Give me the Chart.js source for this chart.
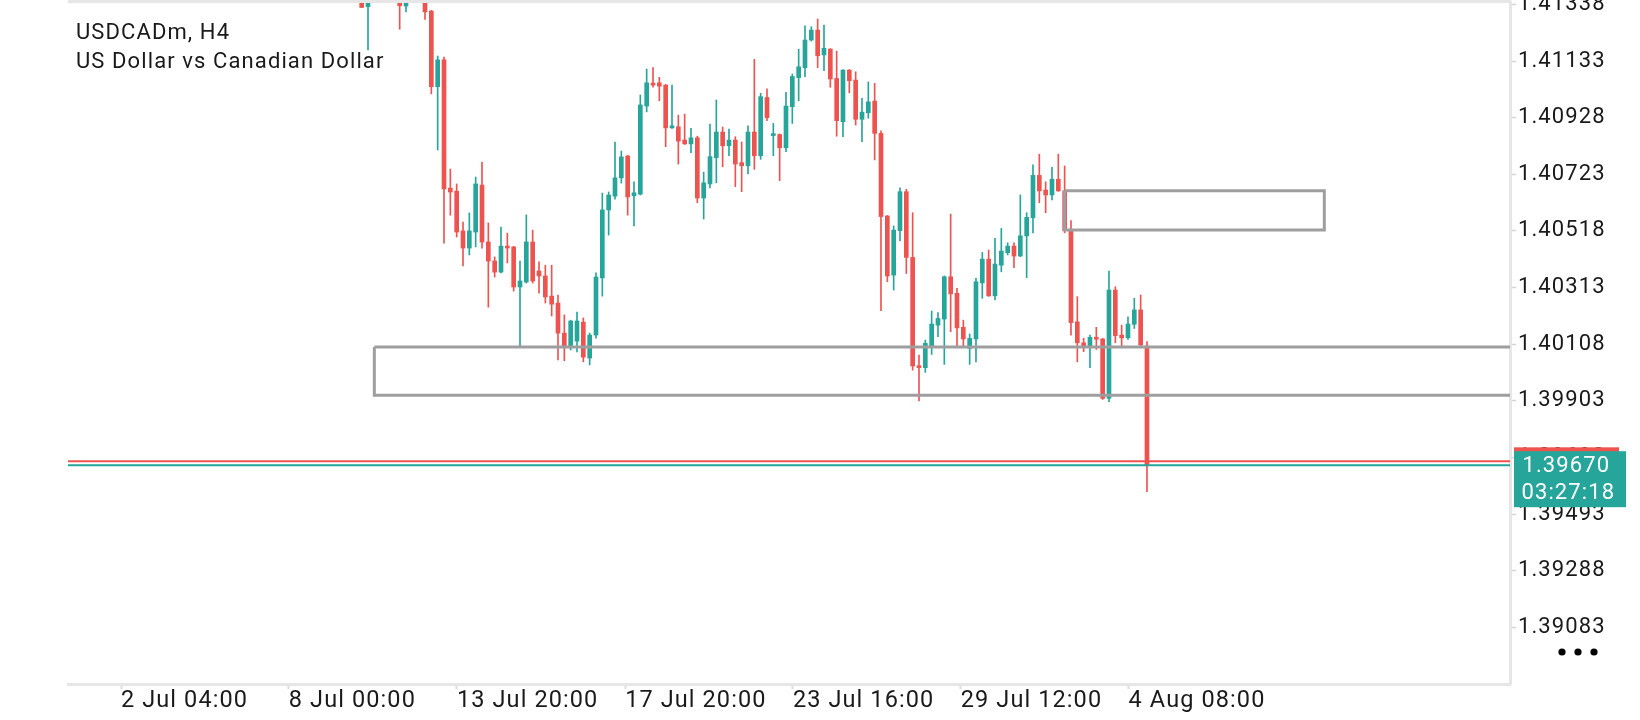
<!DOCTYPE html>
<html><head><meta charset="utf-8">
<script src="https://cdn.jsdelivr.net/npm/chart.js@4.4.1/dist/chart.umd.min.js"></script>
<style>html,body{margin:0;padding:0;background:#fff;overflow:hidden}#wrap{width:1640px;height:720px;position:relative}</style>
</head><body><div id="wrap"><canvas id="c" width="1640" height="720"></canvas></div>
<script>
const symbolTitle = 'USDCADm, H4';
const symbolName = 'US Dollar vs Canadian Dollar';
const bidPrice = 1.39670;
const askPrice = 1.39684;
const countdown = '03:27:18';

const barIndex = [38,39,44,45,48,49,50,51,52,53,54,55,56,57,58,59,60,61,62,63,64,65,66,67,68,69,70,71,72,73,74,75,76,77,78,79,80,81,82,83,84,85,86,87,88,89,90,91,92,93,94,95,96,97,98,99,100,101,102,103,104,105,106,107,108,109,110,111,112,113,114,115,116,117,118,119,120,121,122,123,124,125,126,127,128,129,130,131,132,133,134,135,136,137,138,139,140,141,142,143,144,145,146,147,148,149,150,151,152,153,154,155,156,157,158,159,160,161,162];
const openP = [1.41360,1.41330,1.41360,1.41332,1.41345,1.41314,1.41040,1.41137,1.40673,1.40662,1.40518,1.40456,1.40514,1.40684,1.40478,1.40409,1.40369,1.40463,1.40460,1.40315,1.40333,1.40478,1.40373,1.40355,1.40282,1.40257,1.40148,1.40098,1.40119,1.40188,1.40058,1.40141,1.40348,1.40594,1.40644,1.40710,1.40789,1.40645,1.40651,1.40970,1.41052,1.41054,1.41046,1.40891,1.40895,1.40847,1.40833,1.40855,1.40637,1.40688,1.40783,1.40876,1.40826,1.40847,1.40765,1.40754,1.40876,1.40790,1.41001,1.40863,1.40867,1.40819,1.40968,1.41073,1.41109,1.41209,1.41245,1.41155,1.41176,1.41070,1.40913,1.41100,1.41064,1.40922,1.40946,1.40988,1.40871,1.40572,1.40358,1.40519,1.40660,1.40422,1.40029,1.40023,1.40101,1.40177,1.40199,1.40352,1.40292,1.40169,1.40093,1.40127,1.40330,1.40416,1.40283,1.40394,1.40439,1.40463,1.40427,1.40500,1.40566,1.40719,1.40666,1.40648,1.40705,1.40663,1.40519,1.40189,1.40113,1.40099,1.40133,1.40127,1.39912,1.40304,1.40141,1.40131,1.40180,1.40232,1.40101];
const highP = [1.41380,1.41370,1.41380,1.41370,1.41370,1.41316,1.41151,1.41147,1.40742,1.40688,1.40550,1.40583,1.40713,1.40767,1.40547,1.40424,1.40532,1.40510,1.40462,1.40409,1.40576,1.40521,1.40406,1.40394,1.40394,1.40286,1.40214,1.40195,1.40224,1.40203,1.40148,1.40366,1.40655,1.40659,1.40840,1.40807,1.40792,1.40696,1.41010,1.41104,1.41109,1.41074,1.41048,1.41046,1.40937,1.40941,1.40889,1.40861,1.40731,1.40905,1.40992,1.40894,1.40887,1.40859,1.40840,1.40898,1.41139,1.41016,1.41032,1.40907,1.40869,1.41020,1.41086,1.41176,1.41260,1.41257,1.41285,1.41263,1.41178,1.41169,1.41102,1.41102,1.41094,1.40998,1.41057,1.41052,1.40880,1.40574,1.40536,1.40674,1.40669,1.40584,1.40069,1.40123,1.40228,1.40222,1.40355,1.40579,1.40310,1.40195,1.40145,1.40346,1.40440,1.40449,1.40491,1.40527,1.40475,1.40475,1.40648,1.40584,1.40757,1.40796,1.40696,1.40748,1.40796,1.40753,1.40555,1.40280,1.40129,1.40141,1.40169,1.40129,1.40373,1.40316,1.40177,1.40207,1.40274,1.40286,1.40117];
const lowP = [1.41326,1.41173,1.41248,1.41311,1.41284,1.41014,1.40811,1.40474,1.40575,1.40496,1.40391,1.40431,1.40460,1.40456,1.40242,1.40351,1.40366,1.40402,1.40300,1.40098,1.40329,1.40329,1.40293,1.40257,1.40210,1.40051,1.40048,1.40087,1.40080,1.40044,1.40033,1.40130,1.40282,1.40503,1.40633,1.40691,1.40575,1.40536,1.40648,1.40949,1.41038,1.40989,1.40823,1.40889,1.40760,1.40831,1.40801,1.40620,1.40561,1.40674,1.40692,1.40750,1.40790,1.40678,1.40660,1.40724,1.40741,1.40777,1.40917,1.40790,1.40700,1.40805,1.40907,1.40989,1.41076,1.41205,1.41109,1.41098,1.41038,1.40861,1.40859,1.41018,1.40901,1.40841,1.40926,1.40775,1.40229,1.40334,1.40304,1.40482,1.40364,1.40014,1.39903,1.40006,1.40071,1.40135,1.40035,1.40153,1.40101,1.40099,1.40035,1.40044,1.40274,1.40281,1.40268,1.40370,1.40431,1.40385,1.40425,1.40349,1.40511,1.40620,1.40584,1.40630,1.40661,1.40511,1.40141,1.40044,1.40081,1.40023,1.40089,1.39908,1.39900,1.40113,1.40101,1.40125,1.40165,1.40101,1.39574];
const closeP = [1.41327,1.41350,1.41333,1.41350,1.41311,1.41040,1.41137,1.40670,1.40659,1.40514,1.40456,1.40518,1.40688,1.40478,1.40409,1.40369,1.40463,1.40456,1.40315,1.40337,1.40478,1.40337,1.40355,1.40279,1.40253,1.40148,1.40098,1.40192,1.40192,1.40061,1.40141,1.40351,1.40594,1.40648,1.40710,1.40786,1.40641,1.40656,1.40974,1.41054,1.41046,1.41042,1.40891,1.40898,1.40843,1.40833,1.40855,1.40637,1.40692,1.40787,1.40876,1.40826,1.40847,1.40760,1.40754,1.40876,1.40790,1.41004,1.40928,1.40867,1.40819,1.40970,1.41077,1.41112,1.41209,1.41245,1.41152,1.41179,1.41068,1.40917,1.41100,1.41062,1.40922,1.40948,1.40985,1.40871,1.40570,1.40355,1.40521,1.40660,1.40422,1.40029,1.40023,1.40111,1.40181,1.40201,1.40352,1.40290,1.40167,1.40127,1.40129,1.40334,1.40416,1.40283,1.40398,1.40445,1.40463,1.40427,1.40500,1.40567,1.40719,1.40663,1.40648,1.40705,1.40663,1.40519,1.40186,1.40113,1.40101,1.40133,1.40126,1.39912,1.40304,1.40139,1.40131,1.40181,1.40232,1.40105,1.39670];

const timeTickIndex = [0, 26.5, 53.05, 79.6, 106.1, 132.6, 159.1];
const timeTickLabels = ['2 Jul 04:00','8 Jul 00:00','13 Jul 20:00','17 Jul 20:00','23 Jul 16:00','29 Jul 12:00','4 Aug 08:00'];
const priceTicks = [1.41338,1.41133,1.40928,1.40723,1.40518,1.40313,1.40108,1.39903,1.39698,1.39493,1.39288,1.39083];

const zoneSupport = {x0: 40, x1: 260, top: 1.40098, bottom: 1.39923};
const zoneSupply = {x0: 149, x1: 190, top: 1.40663, bottom: 1.40521};

const xRange = [-8.37, 219.32];
const yRange = [1.38878, 1.41343];

const bull = '#26a69a', bear = '#ef5350', boxGrey = '#9e9e9e', frame = '#e6e6e6', ink = '#1a1a1a';

const candleColors = barIndex.map((_, i) => closeP[i] >= openP[i] ? bull : bear);
const bodies = barIndex.map((x, i) => ({x, y: [openP[i], closeP[i]]}));
const wicks = barIndex.map((x, i) => ({x, y: [lowP[i], highP[i]]}));
const rect = z => [{x:z.x0,y:z.top},{x:z.x1,y:z.top},{x:z.x1,y:z.bottom},{x:z.x0,y:z.bottom},{x:z.x0,y:z.top}];

const decor = {
  id: 'decor',
  beforeDraw(chart) { chart.ctx.letterSpacing = '1.1px'; },
  afterDraw(chart) {
    const ctx = chart.ctx, ys = chart.scales.y, a = chart.chartArea;
    ctx.save();
    ctx.letterSpacing = '1.1px';
    ctx.fillStyle = frame;
    ctx.fillRect(a.left, 0, a.right - a.left + 1.5, 3);
    ctx.fillStyle = ink;
    ctx.font = '22px Roboto';
    ctx.textBaseline = 'middle';
    ctx.textAlign = 'left';
    ctx.fillText(symbolTitle, 76, 33);
    ctx.fillText(symbolName, 76, 62);
    const bidY = ys.getPixelForValue(bidPrice), askY = ys.getPixelForValue(askPrice);
    ctx.fillStyle = bear;
    ctx.fillRect(a.right + 4, askY - 14, 105, 56);
    ctx.fillStyle = bull;
    ctx.fillRect(a.right + 4, bidY - 14, 112, 56);
    ctx.fillStyle = '#ffffff';
    ctx.fillText(bidPrice.toFixed(5), a.right + 12.5, bidY + 1);
    ctx.fillText(countdown, a.right + 11.5, bidY + 28.5);
    ctx.fillStyle = '#000';
    for (const dx of [52, 68, 84]) { ctx.beginPath(); ctx.arc(a.right + dx, 652, 3.6, 0, Math.PI * 2); ctx.fill(); }
    ctx.restore();
  }
};

new Chart(document.getElementById('c'), {
  type: 'bar',
  data: {
    datasets: [
      {label:'wick', data: wicks, backgroundColor: candleColors, barThickness: 1, grouped: false, order: 4, borderWidth: 0},
      {label:'body', data: bodies, backgroundColor: candleColors, barThickness: 4, grouped: false, order: 3, borderWidth: 0, minBarLength: 2},
      {type:'line', label:'zone1', data: rect(zoneSupport), borderColor: boxGrey, borderWidth: 3, pointRadius: 0, order: 2, clip: 0, tension: 0},
      {type:'line', label:'zone2', data: rect(zoneSupply), borderColor: boxGrey, borderWidth: 3, pointRadius: 0, order: 2, clip: 0, tension: 0},
      {type:'line', label:'ask', data: [{x: xRange[0]-5, y: askPrice},{x: xRange[1]+5, y: askPrice}], borderColor: bear, borderWidth: 2, pointRadius: 0, order: 1, clip: 0},
      {type:'line', label:'bid', data: [{x: xRange[0]-5, y: bidPrice},{x: xRange[1]+5, y: bidPrice}], borderColor: bull, borderWidth: 2, pointRadius: 0, order: 1, clip: 0}
    ]
  },
  options: {
    responsive: false,
    animation: false,
    devicePixelRatio: 1,
    layout: {padding: {left: 68, top: 3, right: 0, bottom: 0}},
    plugins: {legend: {display: false}, tooltip: {enabled: false}},
    scales: {
      x: {
        type: 'linear', min: xRange[0], max: xRange[1], offset: false, bounds: 'data',
        grid: {display: true, drawOnChartArea: false, drawTicks: true, tickLength: 5, tickColor: '#dddddd', tickWidth: 2, offset: false},
        border: {display: true, color: frame, width: 3},
        ticks: {autoSkip: false, maxRotation: 0, minRotation: 0, align: 'start', padding: 0, color: ink,
          font: {family: 'Roboto', size: 23.5, lineHeight: 1},
          callback: (v, i) => timeTickLabels[i]},
        afterBuildTicks: s => { s.ticks = timeTickIndex.map(v => ({value: v})); },
        afterFit: s => { s.height = 36; s.paddingLeft = 0; s.paddingRight = 0; }
      },
      y: {
        type: 'linear', position: 'right', min: yRange[0], max: yRange[1], beginAtZero: false, bounds: 'data',
        grid: {display: true, drawOnChartArea: false, drawTicks: true, tickLength: 6, tickColor: '#d6d6d6', tickWidth: 1.5},
        border: {display: true, color: frame, width: 3},
        ticks: {autoSkip: false, padding: 2, color: ink, font: {family: 'Roboto', size: 22},
          callback: v => Number(v).toFixed(5)},
        afterBuildTicks: s => { s.ticks = priceTicks.map(v => ({value: v})); },
        afterFit: s => { s.width = 130; s.paddingTop = 0; s.paddingBottom = 0; }
      }
    }
  },
  plugins: [decor]
});
</script>
</body></html>
